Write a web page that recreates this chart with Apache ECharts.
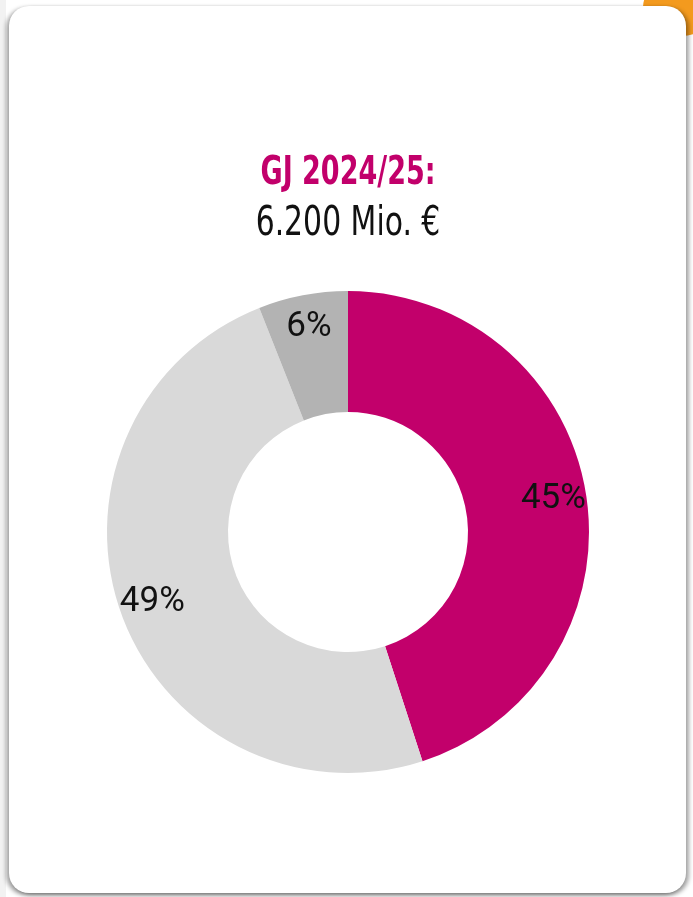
<!DOCTYPE html>
<html>
<head>
<meta charset="utf-8">
<script src="https://cdn.jsdelivr.net/npm/echarts@6/dist/echarts.min.js"></script>
<style>
  html, body { margin: 0; padding: 0; width: 693px; height: 897px; overflow: hidden; background: #fff; }
  .side { position: absolute; left: 0; top: 0; width: 6px; height: 897px; background: #f2f2f2; }
  .blob { position: absolute; right: -25px; top: -22px; width: 75px; height: 58px; border-radius: 50%; background: #f39a1e; }
  .card {
    position: absolute; left: 9px; top: 6px; width: 677px; height: 887px;
    background: #fff; border-radius: 20px;
    box-shadow: -3px 2px 4px rgba(0,0,0,0.35), 3px 2px 4px rgba(0,0,0,0.35);
  }
  #chart { position: absolute; left: 0; top: 0; width: 693px; height: 897px; }
</style>
</head>
<body>
<div class="side"></div>
<div class="blob"></div>
<div class="card"></div>
<div id="chart"></div>
<script>
// Anteile GJ 2024/25
var titleText = 'GJ 2024/25:'
var subText = '6.200 Mio. €'
var segmentNames = ['A', 'B', 'C']
var segmentValues = [45, 49, 6]
var segmentColors = ['#c2006b', '#d9d9d9', '#b3b3b3']

var fontCond = '"DejaVu Sans Condensed", sans-serif'

var pieData = segmentNames.map(function(name, i) {
  return { name: name, value: segmentValues[i], itemStyle: { color: segmentColors[i] } }
})

var chart = echarts.init(document.getElementById('chart'))
chart.setOption({
  animation: false,
  // Ueberschrift schmal gestaucht (keine Condensed-Schrift vorhanden)
  graphic: [{
    type: 'text',
    x: 348,
    y: 154,
    scaleX: 0.77,
    silent: true,
    style: {
      text: titleText,
      fill: '#c2006b',
      font: 'bold 39px ' + fontCond,
      align: 'center',
      verticalAlign: 'top',
      textAlign: 'center',
      textVerticalAlign: 'top'
    }
  }, {
    type: 'text',
    x: 348,
    y: 204,
    scaleX: 0.81,
    silent: true,
    style: {
      text: subText,
      fill: '#111',
      font: 'normal 41px ' + fontCond,
      align: 'center',
      verticalAlign: 'top',
      textAlign: 'center',
      textVerticalAlign: 'top'
    }
  }],
  series: [{
    type: 'pie',
    center: [348, 532],
    radius: [120, 241],
    startAngle: 90,
    clockwise: true,
    silent: true,
    label: { show: false },
    labelLine: { show: false },
    data: pieData
  }, {
    // unsichtbarer Ring nur fuer die Prozent-Beschriftung
    type: 'pie',
    center: [348, 532],
    radius: [168, 242],
    startAngle: 90,
    clockwise: true,
    silent: true,
    itemStyle: { color: 'rgba(0,0,0,0)' },
    label: {
      show: true,
      position: 'inside',
      formatter: '{c}%',
      color: '#111',
      fontFamily: 'Roboto, sans-serif',
      fontSize: 35
    },
    labelLine: { show: false },
    data: segmentNames.map(function(name, i) {
      return { name: name, value: segmentValues[i] }
    })
  }]
})
</script>
</body>
</html>
